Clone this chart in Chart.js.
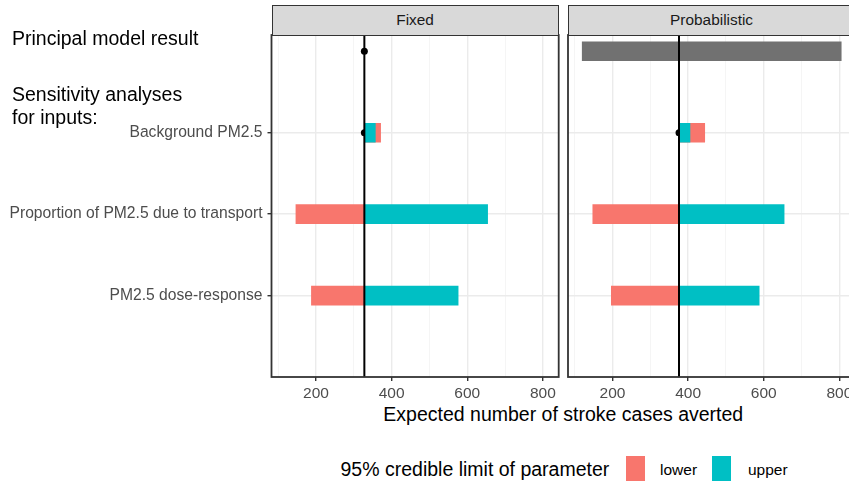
<!DOCTYPE html>
<html>
<head>
<meta charset="utf-8">
<script src="https://cdn.jsdelivr.net/npm/chart.js@4.4.1/dist/chart.umd.min.js"></script>
<style>
  html, body { margin: 0; padding: 0; background: #fff; overflow: hidden; }
  #wrap { position: relative; width: 849px; height: 482px; overflow: hidden;
          font-family: "Liberation Sans", Arial, sans-serif; }
  canvas { position: absolute; top: 0; }
  .txt { position: absolute; white-space: nowrap; color: #000; }
  .big { font-size: 19.5px; line-height: 20px; }
  .strip { position: absolute; box-sizing: border-box; background: #D9D9D9;
           border: 1.5px solid #333; text-align: center; font-size: 15.4px;
           color: #1A1A1A; line-height: 27px; }
  .key { position: absolute; width: 19px; height: 25px; }
  .keytxt { position: absolute; font-size: 15.5px; line-height: 18px; color: #000; }
</style>
</head>
<body>
<div id="wrap">
  <canvas id="fixedChart" width="566" height="400" style="left:0px;width:566px;height:400px"></canvas>
  <canvas id="probChart" width="300" height="400" style="left:560px;width:300px;height:400px"></canvas>

  <div class="strip" id="strip0"></div>
  <div class="strip" id="strip1"></div>

  <div class="txt big" style="left:12px;top:27.8px">Principal model result</div>
  <div class="txt big" style="left:12px;top:82.5px;line-height:23.4px">Sensitivity analyses<br>for inputs:</div>

  <div class="txt big" id="xTitle" style="top:403.5px">Expected number of stroke cases averted</div>

  <div class="txt big" style="left:340.5px;top:459px">95% credible limit of parameter</div>
  <div class="key" style="left:626px;top:456px;background:#F8766D"></div>
  <div class="keytxt" style="left:660px;top:460.5px">lower</div>
  <div class="key" style="left:712px;top:456px;background:#00BFC4"></div>
  <div class="keytxt" style="left:748px;top:460.5px">upper</div>
</div>

<script>
// --- data -------------------------------------------------------------
var rowLabels = ["Principal model result", "Background PM2.5",
                 "Proportion of PM2.5 due to transport", "PM2.5 dose-response"];
var rowPos = [0, 1, 2, 3];
var panelNames = ["Fixed", "Probabilistic"];

// Fixed panel: central estimate and the result at each 95% limit
var fixedCentral = 328;
var fixedLower = [null, 371, 147, 188];
var fixedUpper = [null, 357, 654, 576];

// Probabilistic panel
var probCentral = 376;
var probLower = [null, 444, 148, 197];
var probUpper = [null, 405, 654, 588];
var probInterval = [120, 805];   // principal model 95% interval

var xMajorTicks = [200, 400, 600, 800];
var xMinorTicks = [100, 300, 500, 700];
var xMin = 82.4, xMax = 842;

// --- helpers ----------------------------------------------------------
var FONT = "'Liberation Sans', Arial, sans-serif";
var RED = "#F8766D", TEAL = "#00BFC4", GREY = "#717171";

function barData(central, ends) {
    var out = [];
    for (var i = 0; i < ends.length; i++) {
        if (ends[i] != null) {
            out.push({y: rowPos[i], x: [central, ends[i]]});
        }
    }
    return out;
}

function pointData(central) {
    return rowPos.map(function(p) { return {x: central, y: p}; });
}

var panelBorder = {
    id: "panelBorder",
    afterDraw: function(chart) {
        var a = chart.chartArea, ctx = chart.ctx;
        ctx.save();
        ctx.strokeStyle = "#333333";
        ctx.lineWidth = 1.8;
        ctx.strokeRect(a.left, a.top, a.right - a.left, a.bottom - a.top);
        ctx.restore();
    }
};

function isMajor(v) { return xMajorTicks.indexOf(v) >= 0; }

function makePanel(canvasId, central, lower, upper, interval, showLabels, pad) {
    var datasets = [
        {type: "line", data: [{x: central, y: -0.2}, {x: central, y: 4}],
         borderColor: "#000", borderWidth: 2, pointRadius: 0, order: 0},
        {type: "bar", label: "upper", data: barData(central, upper),
         backgroundColor: TEAL, barThickness: 19, grouped: false, order: 2},
        {type: "bar", label: "lower", data: barData(central, lower),
         backgroundColor: RED, barThickness: 19, grouped: false, order: 3},
        {type: "scatter", data: pointData(central), backgroundColor: "#000",
         borderWidth: 0, pointRadius: 3.5, order: 6}
    ];
    if (interval) {
        datasets.push({type: "bar", data: [{y: 0, x: interval}], backgroundColor: GREY,
                       barThickness: 19, grouped: false, order: 2});
    }

    return new Chart(document.getElementById(canvasId), {
        type: "bar",
        data: {datasets: datasets},
        plugins: [panelBorder],
        options: {
            indexAxis: "y",
            responsive: false,
            animation: false,
            devicePixelRatio: 1,
            events: [],
            layout: {padding: pad},
            plugins: {legend: {display: false}, tooltip: {enabled: false}},
            scales: {
                x: {
                    type: "linear", min: xMin, max: xMax, offset: false,
                    afterBuildTicks: function(s) {
                        s.ticks = xMinorTicks.concat(xMajorTicks)
                            .sort(function(a, b) { return a - b; })
                            .map(function(v) { return {value: v}; });
                    },
                    afterFit: function(s) {
                        s.height = 23;
                        s.paddingLeft = 0; s.paddingRight = 0;
                    },
                    border: {display: false},
                    grid: {
                        offset: false,
                        color: function(c) { return isMajor(c.tick.value) ? "#EBEBEB" : "#F3F3F3"; },
                        lineWidth: function(c) { return isMajor(c.tick.value) ? 1.4 : 0.8; },
                        tickLength: 4,
                        tickColor: function(c) { return isMajor(c.tick.value) ? "#333" : "rgba(0,0,0,0)"; },
                        tickWidth: 1.4
                    },
                    ticks: {
                        callback: function(v) { return isMajor(v) ? String(v) : ""; },
                        color: "#4D4D4D", font: {size: 15.5, family: FONT},
                        padding: 3, maxRotation: 0, autoSkip: false
                    }
                },
                y: {
                    type: "linear", min: -0.2, max: 4, reverse: true, offset: false,
                    afterBuildTicks: function(s) {
                        s.ticks = [1, 2, 3].map(function(v) { return {value: v}; });
                    },
                    afterFit: function(s) {
                        s.width = showLabels ? 271.5 : 0;
                        s.paddingTop = 0; s.paddingBottom = 0;
                    },
                    border: {display: false},
                    grid: {offset: false, color: "#EBEBEB", lineWidth: 1.4, drawTicks: showLabels,
                           tickLength: 4, tickColor: "#333", tickWidth: 1.4},
                    ticks: {
                        display: showLabels,
                        callback: function(v) { return rowLabels[v]; },
                        color: "#4D4D4D", font: {size: 15.65, family: FONT}, padding: 5
                    }
                }
            }
        }
    });
}

var fixedChart = makePanel("fixedChart", fixedCentral, fixedLower, fixedUpper, null, true,
                           {top: 35, right: 7.3, left: 0, bottom: 0});
var probChart = makePanel("probChart", probCentral, probLower, probUpper, probInterval, false,
                          {top: 35, right: 4.8, left: 8, bottom: 0});

// strips over each panel
[fixedChart, probChart].forEach(function(ch, i) {
    var a = ch.chartArea;
    var off = parseFloat(ch.canvas.style.left);
    var s = document.getElementById("strip" + i);
    s.textContent = panelNames[i];
    s.style.left = (off + a.left) + "px";
    s.style.width = (a.right - a.left) + "px";
    s.style.top = "5px";
    s.style.height = (a.top - 5 + 0.9) + "px";
});

// x title centred under both panels
var leftEdge = fixedChart.chartArea.left;
var rightEdge = 560 + probChart.chartArea.right;
var xt = document.getElementById("xTitle");
xt.style.left = ((leftEdge + rightEdge) / 2 - xt.offsetWidth / 2) + "px";
</script>
</body>
</html>
